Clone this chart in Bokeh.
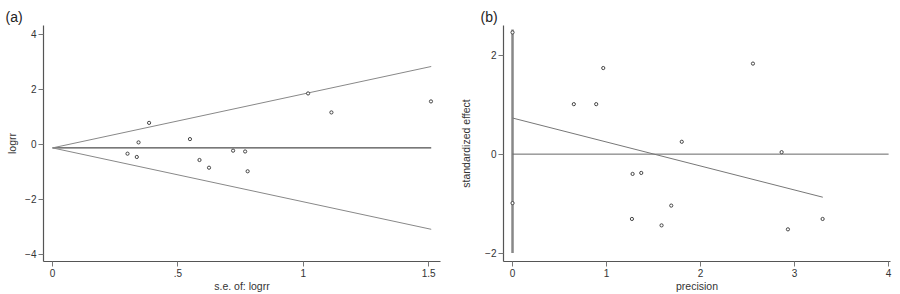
from bokeh.plotting import figure
from bokeh.layouts import row
from bokeh.models import Range1d, FixedTicker, Title
from bokeh.embed import file_html
from bokeh.resources import INLINE

# Panel (a): funnel plot
se_a = [0.299, 0.336, 0.343, 0.385, 0.548, 0.586, 0.624, 0.72, 0.768, 0.778, 1.019, 1.112, 1.509]
logrr_a = [-0.35, -0.47, 0.06, 0.77, 0.18, -0.58, -0.86, -0.24, -0.27, -0.99, 1.84, 1.15, 1.55]
theta_a = -0.14
se_max_a = 1.51
x_ticks_a = [0, 0.5, 1, 1.5]
y_ticks_a = [-4, -2, 0, 2, 4]

# Panel (b): Egger regression (standardized effect vs precision)
prec_b = [0.0, 0.0, 0.652, 0.89, 0.965, 1.277, 1.27, 1.369, 1.585, 1.688, 1.80, 2.557, 2.862, 2.929, 3.298]
std_b = [2.46, -0.99, 1.01, 1.01, 1.74, -0.40, -1.31, -0.38, -1.44, -1.04, 0.25, 1.83, 0.04, -1.52, -1.31]
intercept_b = 0.73
slope_b = -0.485
prec_max_b = 3.30
ci_b = [-2.0, 2.52]
x_ticks_b = [0, 1, 2, 3, 4]
y_ticks_b = [-2, 0, 2]

FONT = "Liberation Sans"
AX = "#555555"


def style(p):
    p.outline_line_color = None
    p.grid.visible = False
    p.background_fill_color = "white"
    p.border_fill_color = "white"
    for ax in (p.xaxis[0], p.yaxis[0]):
        ax.axis_line_color = AX
        ax.axis_line_width = 1.2
        ax.major_tick_line_color = "#777777"
        ax.major_tick_out = 5
        ax.major_tick_in = 0
        ax.minor_tick_line_color = None
        ax.major_label_text_font = FONT
        ax.major_label_text_font_size = "10px"
        ax.major_label_text_color = "#333333"
        ax.axis_label_text_font = FONT
        ax.axis_label_text_font_size = "10.5px"
        ax.axis_label_text_font_style = "normal"
        ax.axis_label_text_color = "#333333"
        ax.major_label_standoff = 2
    p.yaxis[0].major_label_orientation = "horizontal"


# ---- panel (a)
pa = figure(width=450, height=294, output_backend="svg", toolbar_location=None,
            x_range=Range1d(-0.036, 1.547), y_range=Range1d(-4.27, 4.31),
            min_border_left=43, min_border_right=10, min_border_top=20, min_border_bottom=31)
pa.xaxis.axis_label = "s.e. of: logrr"
pa.yaxis.axis_label = "logrr"
pa.xaxis.ticker = FixedTicker(ticks=x_ticks_a)
pa.xaxis.major_label_overrides = {0: "0", 0.5: ".5", 1: "1", 1.5: "1.5"}
pa.yaxis.ticker = FixedTicker(ticks=y_ticks_a)
style(pa)
pa.xaxis.axis_label_standoff = 0
pa.yaxis.axis_label_standoff = 4

pa.line([0, se_max_a], [theta_a, theta_a], line_color="#222222", line_width=1)
pa.line([0, se_max_a], [theta_a, theta_a + 1.96 * se_max_a], line_color="#888888", line_width=1)
pa.line([0, se_max_a], [theta_a, theta_a - 1.96 * se_max_a], line_color="#888888", line_width=1)
pa.scatter(se_a, logrr_a, size=3.2, marker="circle", fill_color="white",
           line_color="#444444", line_width=1)
pa.add_layout(Title(text="(a)", align="left", offset=-38, text_font=FONT,
                    text_font_size="14px", text_font_style="normal",
                    text_color="#222222", standoff=2), "above")

# ---- panel (b)
pb = figure(width=450, height=294, output_backend="svg", toolbar_location=None,
            x_range=Range1d(-0.096, 4.02), y_range=Range1d(-2.17, 2.60),
            min_border_left=53, min_border_right=10, min_border_top=25, min_border_bottom=29)
pb.xaxis.axis_label = "precision"
pb.yaxis.axis_label = "standardized effect"
pb.xaxis.ticker = FixedTicker(ticks=x_ticks_b)
pb.yaxis.ticker = FixedTicker(ticks=y_ticks_b)
style(pb)
pb.xaxis.axis_label_standoff = 0
pb.yaxis.axis_label_standoff = 10

pb.line([0, 0], ci_b, line_color="#888888", line_width=2.5)
pb.line([0, 4], [0, 0], line_color="#666666", line_width=1)
pb.line([0, prec_max_b], [intercept_b, intercept_b + slope_b * prec_max_b],
        line_color="#777777", line_width=1)
pb.scatter(prec_b, std_b, size=3.2, marker="circle", fill_color="white",
           line_color="#444444", line_width=1)
pb.add_layout(Title(text="(b)", align="left", offset=-23, text_font=FONT,
                    text_font_size="14px", text_font_style="normal",
                    text_color="#222222", standoff=2), "above")

layout = row(pa, pb)
open("out.html", "w").write(file_html(layout, INLINE))
